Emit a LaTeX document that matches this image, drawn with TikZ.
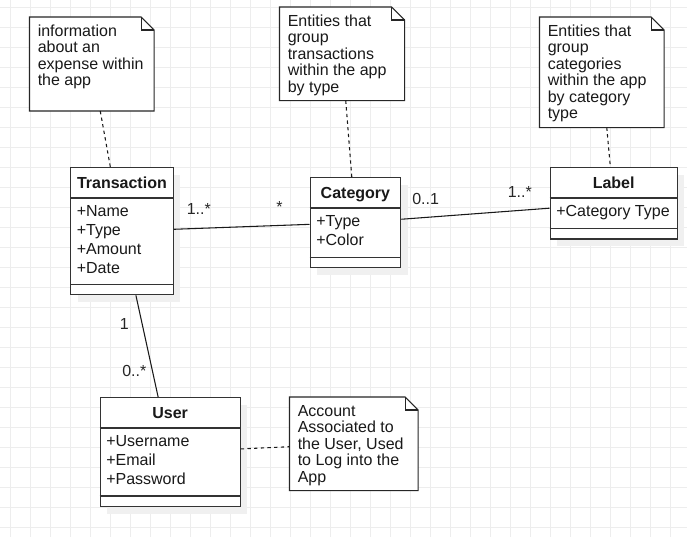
\documentclass[tikz,border=0pt]{standalone}
\usepackage{fontspec}
\setmainfont{Liberation Sans}
\usetikzlibrary{shadows}
\tikzset{
 classbox/.style={draw=black!80, line width=1pt, fill=white, rectangle, inner sep=0pt, anchor=north west,
   drop shadow={shadow xshift=5.25pt, shadow yshift=-5.25pt, fill=black!6, opacity=1}},
 notebg/.style={rectangle, inner sep=0pt, anchor=north west, draw=none},
 noteline/.style={draw=black!85, line width=0.8pt, fill=white},
 divider/.style={draw=black!80, line width=1pt},
 titletext/.style={font=\fontsize{12pt}{12.4pt}\selectfont\bfseries, text=black!90, inner sep=0pt, anchor=base},
 attrtext/.style={font=\fontsize{12pt}{14.25pt}\selectfont, text=black!90, inner sep=0pt, anchor=north west, align=left},
 notetext/.style={font=\fontsize{12pt}{12.4pt}\selectfont, text=black!90, inner sep=0pt, anchor=north west, align=left},
 multtext/.style={font=\fontsize{12pt}{12.4pt}\selectfont, text=black!85, inner sep=0pt, anchor=base west},
 assoc/.style={draw=black!90, line width=0.8pt},
 notelink/.style={draw=black!90, line width=0.8pt, dash pattern=on 2.5pt off 2.5pt},
 gridline/.style={draw=gray!14, line width=0.6pt},
}
\newcommand\mynote[1]{%
 \draw[noteline] (#1.north west) -- ([xshift=-9.75pt]#1.north east) -- ([yshift=-9.75pt]#1.north east) -- (#1.south east) -- (#1.south west) -- cycle;
 \draw[noteline, fill=none] ([xshift=-9.75pt]#1.north east) -- ([xshift=-9.75pt,yshift=-9.75pt]#1.north east) -- ([yshift=-9.75pt]#1.north east);
}
\begin{document}
\begin{tikzpicture}[x=0.75pt, y=-0.75pt]
\useasboundingbox (0,0) rectangle (687,537);
\fill[white] (0,0) rectangle (687,537);
% grid
\foreach \gx in {10,30,...,680} \draw[gridline] (\gx,0) -- (\gx,537);
\foreach \gy in {7,27,...,527} \draw[gridline] (0,\gy) -- (687,\gy);

% notes
\node[notebg, minimum width=93pt, minimum height=70.1pt] (n1) at (29.5,17) {};
\mynote{n1}
\node[notetext] (n1t) at (37.5,24) {\rule{0pt}{9pt}information\\about an\\expense within\\the app};

\node[notebg, minimum width=93.4pt, minimum height=69.75pt] (n2) at (279.5,7) {};
\mynote{n2}
\node[notetext] (n2t) at (287.5,14) {\rule{0pt}{9pt}Entities that\\group\\transactions\\within the app\\by type};

\node[notebg, minimum width=93pt, minimum height=82.5pt] (n3) at (539.5,17) {};
\mynote{n3}
\node[notetext] (n3t) at (547.5,24) {\rule{0pt}{9pt}Entities that\\group\\categories\\within the app\\by category\\type};

\node[notebg, minimum width=96pt, minimum height=69.75pt] (n4) at (289.5,397) {};
\mynote{n4}
\node[notetext] (n4t) at (297.5,404) {\rule{0pt}{9pt}Account\\Associated to\\the User, Used\\to Log into the\\App};

% classes
\node[classbox, minimum width=76.875pt, minimum height=95.25pt] (t) at (70,167) {};
\draw[divider] ([yshift=-23.25pt]t.north west) -- ([yshift=-23.25pt]t.north east);
\draw[divider] ([yshift=8.25pt]t.south west) -- ([yshift=8.25pt]t.south east);
\node[titletext] (tt) at ([yshift=-15.75pt]t.north) {Transaction};
\node[attrtext] (ta) at ([xshift=4.875pt,yshift=-27.75pt]t.north west) {\rule{0pt}{9pt}+Name\\+Type\\+Amount\\+Date};

\node[classbox, minimum width=67.875pt, minimum height=67.5pt] (c) at (309.5,177) {};
\draw[divider] ([yshift=-23.25pt]c.north west) -- ([yshift=-23.25pt]c.north east);
\draw[divider] ([yshift=8.25pt]c.south west) -- ([yshift=8.25pt]c.south east);
\node[titletext] (ct) at ([yshift=-15.75pt]c.north) {Category};
\node[attrtext] (ca) at ([xshift=4.875pt,yshift=-27.75pt]c.north west) {\rule{0pt}{9pt}+Type\\+Color};

\node[classbox, minimum width=95.25pt, minimum height=53.6pt] (l) at (549.5,167) {};
\draw[divider] ([yshift=-23.25pt]l.north west) -- ([yshift=-23.25pt]l.north east);
\draw[divider] ([yshift=8.6pt]l.south west) -- ([yshift=8.6pt]l.south east);
\node[titletext] (lt) at ([yshift=-15.75pt]l.north) {Label};
\node[attrtext] (la) at ([xshift=4.875pt,yshift=-27.75pt]l.north west) {\rule{0pt}{9pt}+Category Type};

\node[classbox, minimum width=105pt, minimum height=81.75pt] (u) at (99.5,397) {};
\draw[divider] ([yshift=-23.25pt]u.north west) -- ([yshift=-23.25pt]u.north east);
\draw[divider] ([yshift=8.6pt]u.south west) -- ([yshift=8.6pt]u.south east);
\node[titletext] (ut) at ([yshift=-15.75pt]u.north) {User};
\node[attrtext] (ua) at ([xshift=4.875pt,yshift=-27.75pt]u.north west) {\rule{0pt}{9pt}+Username\\+Email\\+Password};

% associations
\draw[assoc] (t) -- (c);
\draw[assoc] (c) -- (l);
\draw[assoc] (t) -- (u);

% note links
\draw[notelink] (n1) -- (t);
\draw[notelink] (n2) -- (c);
\draw[notelink] (n3) -- (l);
\draw[notelink] (u) -- (n4);

% multiplicities
\node[multtext] (m1) at (186.5,214.5) {1..*};
\node[multtext] (m2) at (276,212.5) {*};
\node[multtext] (m3) at (412,204.5) {0..1};
\node[multtext] (m4) at (507.5,197) {1..*};
\node[multtext] (m5) at (119.5,329) {1};
\node[multtext] (m6) at (122,376) {0..*};
\end{tikzpicture}
\end{document}
